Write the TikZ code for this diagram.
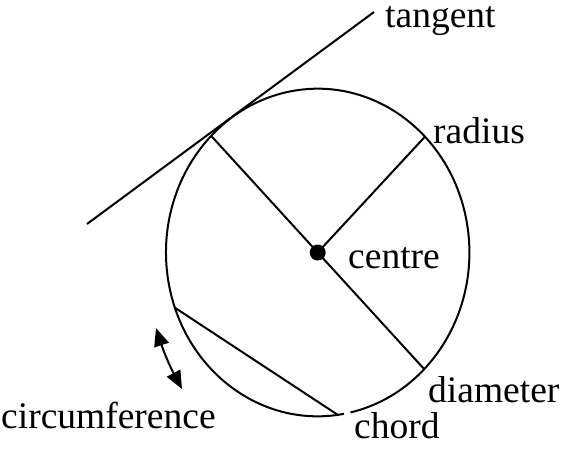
\documentclass[tikz,border=0pt]{standalone}
\usepackage{fontspec}
\setmainfont{Liberation Serif}
\usetikzlibrary{arrows.meta}
\tikzset{
  geo/.style={line width=2pt, draw=black},
  lbl/.style={inner sep=0pt, anchor=base west, text height=0.6em, text depth=0.2em, font=\fontsize{37.5}{40}\selectfont},
  dotnode/.style={circle, fill=black, inner sep=0pt, minimum size=16pt},
  tip/.style={},
}
\begin{document}
\begin{tikzpicture}[x=1pt,y=-1pt]
\useasboundingbox (0,0) rectangle (563,450);
\coordinate (O) at (317.7,252.5);
% circle (slightly elliptical), with a tiny gap near the chord end
\path (O) ++(80:151.7 and 163.8) coordinate (G);
\draw[geo] (G) arc[start angle=80, end angle=437.5, x radius=151.7, y radius=163.8];
% points on the circle
\path (O) ++(225.4:151.7 and 163.8) coordinate (D1);
\path (O) ++(45.4:151.7 and 163.8) coordinate (D2);
\path (O) ++(-45:151.7 and 163.8) coordinate (R);
\path (O) ++(160.3:151.7 and 163.8) coordinate (C1);
\path (O) ++(82.4:151.7 and 163.8) coordinate (C2);
% tangent
\coordinate (T1) at (87,224);
\coordinate (T2) at (374,12);
\draw[geo] (T1) -- (T2);
% diameter, radius, chord
\draw[geo] (D1) -- (D2);
\draw[geo] (O) -- (R);
\draw[geo] (C1) -- (C2);
\node[dotnode] (c) at (O) {};
% circumference arrow
\coordinate (A1) at (156,328);
\coordinate (A2) at (182,389);
\draw[geo, {Triangle[length=18pt 0,width=15pt 0]}-{Triangle[length=18pt 0,width=15pt 0]}] (A1) to[bend right=5] (A2);
% labels
\node[lbl] (ltan) at (385,27) {tangent};
\node[lbl] (lrad) at (433,143) {radius};
\node[lbl] (lcen) at (348,268) {centre};
\node[lbl] (ldia) at (428,402) {diameter};
\node[lbl] (lcir) at (1,428) {circumference};
\node[lbl] (lcho) at (354,438) {chord};
\end{tikzpicture}
\end{document}
